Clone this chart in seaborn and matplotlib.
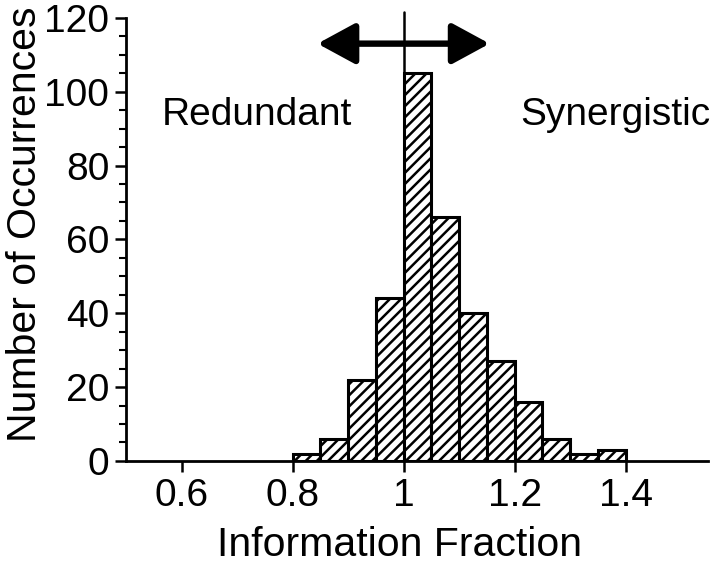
import numpy as np
import seaborn as sns
import matplotlib.pyplot as plt
from matplotlib.ticker import MultipleLocator

# histogram bins (width 0.05) and counts
bin_edges = [0.80, 0.85, 0.90, 0.95, 1.00, 1.05, 1.10, 1.15, 1.20, 1.25, 1.30, 1.35, 1.40]
counts = [2, 6, 22, 44, 105, 66, 40, 27, 16, 6, 2, 3]
bin_centers = [(a + b) / 2 for a, b in zip(bin_edges[:-1], bin_edges[1:])]

x_ticks = [0.6, 0.8, 1.0, 1.2, 1.4]
x_tick_labels = ["0.6", "0.8", "1", "1.2", "1.4"]
y_ticks = [0, 20, 40, 60, 80, 100, 120]

divider_x = 1.0
arrow_left, arrow_right, arrow_y = 0.845, 1.155, 113

sns.set_style("ticks")
plt.rcParams["font.family"] = ["Liberation Sans", "DejaVu Sans"]
plt.rcParams["hatch.linewidth"] = 1.8
plt.rcParams["text.color"] = "black"
plt.rcParams["axes.labelcolor"] = "black"
plt.rcParams["xtick.color"] = "black"
plt.rcParams["ytick.color"] = "black"
plt.rcParams["axes.edgecolor"] = "black"

fig = plt.figure(figsize=(7.2, 5.74), dpi=100)
ax = fig.add_axes([0.175, 0.197, 0.808, 0.772])

sns.histplot(x=bin_centers, weights=counts, bins=bin_edges, ax=ax,
             color="white", edgecolor="black", linewidth=2.2, alpha=1)
for p in ax.patches:
    p.set_hatch("///")

# divider line at 1 and the double arrow
ax.plot([divider_x, divider_x], [0, 121.5], color="black", lw=1.8,
        zorder=0.5, clip_on=False)
ax.annotate("", xy=(arrow_left, arrow_y), xytext=(arrow_right, arrow_y),
            arrowprops=dict(arrowstyle="<|-|>,head_length=2.3,head_width=1.25",
                            color="black", lw=4.6, shrinkA=0, shrinkB=0))

ax.text(0.735, 91, "Redundant", ha="center", va="baseline", fontsize=28)
ax.text(1.381, 91, "Synergistic", ha="center", va="baseline", fontsize=28)

ax.set_xlim(0.5, 1.548)
ax.set_ylim(0, 120)
ax.set_xticks(x_ticks)
ax.set_xticklabels(x_tick_labels)
ax.set_yticks(y_ticks)
ax.yaxis.set_minor_locator(MultipleLocator(5))
ax.tick_params(axis="both", which="major", labelsize=28, width=1.8, length=8,
               direction="out", pad=4)
ax.tick_params(axis="y", which="minor", width=1.5, length=5, direction="out")
ax.set_xlabel("Information Fraction", fontsize=29.5, labelpad=9)
ax.set_ylabel("Number of Occurrences", fontsize=29.5, labelpad=0)
ax.xaxis.label.set_x(0.47)
ax.yaxis.label.set_y(0.533)

sns.despine(ax=ax)
for s in ["left", "bottom"]:
    ax.spines[s].set_linewidth(2)

fig.savefig("out.png", dpi=100)
